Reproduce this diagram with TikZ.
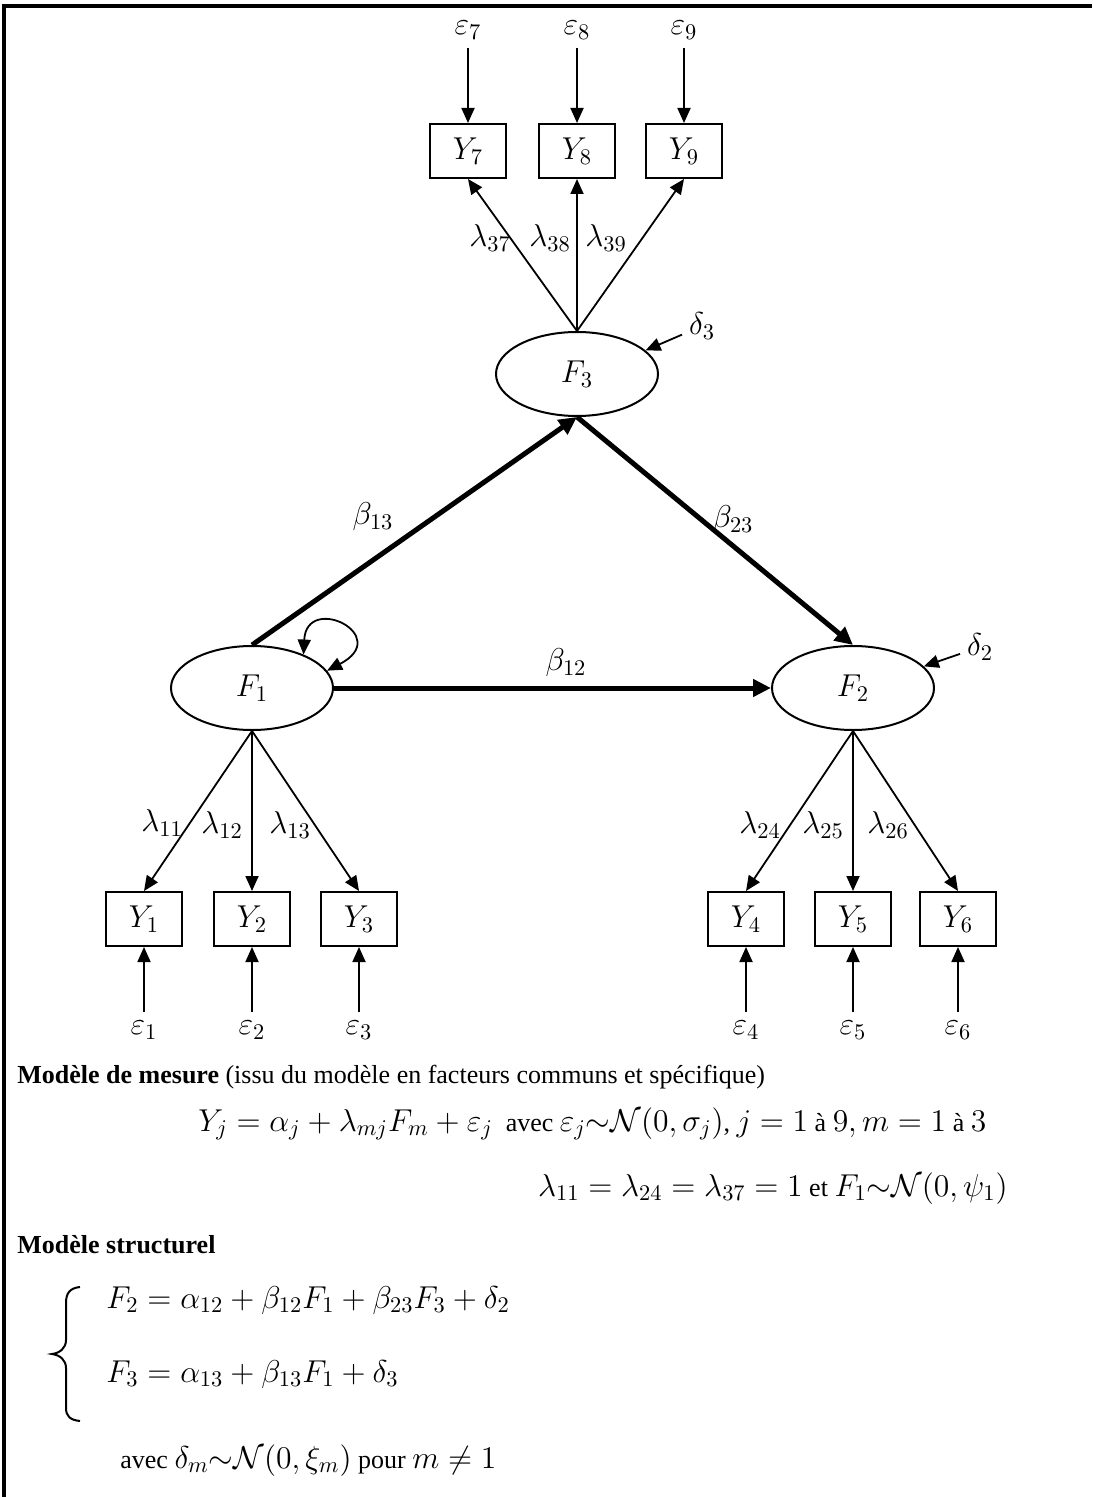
\RequirePackage{fix-cm}
\documentclass[tikz,border=0pt]{standalone}
\usepackage{fontspec}
\setmainfont{Liberation Serif}
\DeclareMathSizes{13}{15.8}{11.2}{8.8}
\usetikzlibrary{arrows.meta,shapes.geometric}
\begin{document}
\begin{tikzpicture}[x=0.5pt,y=-0.5pt,
    every node/.style={font=\fontsize{13}{15}\selectfont},
    obs/.style={draw,line width=1pt,minimum width=38pt,minimum height=27pt,inner sep=0pt},
    lat/.style={draw,ellipse,line width=1pt,minimum width=81pt,minimum height=42pt,inner sep=0pt},
    err/.style={inner sep=4pt},
    arr/.style={line width=0.9pt,-{Triangle[length=7.5pt,width=6.5pt]}},
    struct/.style={line width=2.5pt,-{Triangle[length=9pt,width=8.5pt]}},
    txt/.style={anchor=base west,inner sep=0pt}]
    \useasboundingbox (0,0) rectangle (1092,1497);
    \draw[line width=1.6pt] (4,1497) -- (4,6) -- (1092,6);
    % latent factors
    \node[lat] (F1) at (252,688) {$F_1$};
    \node[lat] (F2) at (853,688) {$F_2$};
    \node[lat] (F3) at (577,374) {$F_3$};
    % indicators
    \foreach \n/\x in {7/468,8/577,9/684} {
        \node[obs] (Y\n) at (\x,151) {$Y_{\n}$};
        \node[err] (e\n) at (\x,30) {$\varepsilon_{\n}$};
        \draw[arr] (e\n) -- (Y\n);
        \draw[arr] (F3.north) -- (Y\n.south);
    }
    \foreach \n/\x/\f in {1/144/F1,2/252/F1,3/359/F1,4/746/F2,5/853/F2,6/958/F2} {
        \node[obs] (Y\n) at (\x,919) {$Y_{\n}$};
        \node[err] (e\n) at (\x,1030) {$\varepsilon_{\n}$};
        \draw[arr] (e\n) -- (Y\n);
        \draw[arr] (\f.south) -- (Y\n.north);
    }
    \foreach \lab/\x/\y in {37/490/238,38/550/238,39/606/238,11/162/823,12/222/825,
        13/290/825,24/760/825,25/823/825,26/888/825}
        \node (l\lab) at (\x,\y) {$\lambda_{\lab}$};
    % structural paths
    \draw[struct] (F1.north) -- (F3.south);
    \draw[struct] (F3.south) -- (F2.north);
    \draw[struct] (F1.east) -- (F2.west);
    \node (b13) at (373,517) {$\beta_{13}$};
    \node (b23) at (733,520) {$\beta_{23}$};
    \node (b12) at (566,663) {$\beta_{12}$};
    \draw[line width=0.9pt,{Triangle[length=7.5pt,width=6.5pt]}-{Triangle[length=7.5pt,width=6.5pt]}]
        (F1.33) .. controls +(3,-62) and +(67,-35) .. (F1.13);
    \node (d3) at (702,326) {$\delta_3$};
    \draw[arr] (d3) -- (F3.19);
    \node (d2) at (980,647) {$\delta_2$};
    \draw[arr] (d2) -- (F2.17);
    % equations
    \node[txt] (mes) at (17,1083) {\textbf{Modèle de mesure} (issu du modèle en facteurs communs et spécifique)};
    \node[txt] (eq1) at (198,1131) {$Y_j=\alpha_j+\lambda_{mj}F_m+\varepsilon_j$\ \ avec $\varepsilon_j{\sim}\mathcal{N}\big(0,\sigma_j\big)$, $j=1$ à $9, m=1$ à $3$};
    \node[anchor=base east,inner sep=0pt] (eq2) at (1008,1196) {$\lambda_{11}=\lambda_{24}=\lambda_{37}=1$ et $F_1{\sim}\mathcal{N}(0,\psi_1)$};
    \node[txt] (str) at (17,1253) {\textbf{Modèle structurel}};
    \draw[line width=1pt] (80,1287) .. controls (70,1288) and (66,1293) .. (66,1303) -- (66,1340)
        .. controls (66,1348) and (60,1353) .. (52,1354) .. controls (60,1355) and (66,1360) .. (66,1368)
        -- (66,1408) .. controls (66,1416) and (70,1420) .. (80,1421);
    \node[txt] (eqF2) at (106,1308) {$F_2=\alpha_{12}+\beta_{12}F_1+\beta_{23}F_3+\delta_2$};
    \node[txt] (eqF3) at (106,1382) {$F_3=\alpha_{13}+\beta_{13}F_1+\delta_3$};
    \node[txt] (avec) at (120,1468) {avec $\delta_m{\sim}\mathcal{N}(0,\xi_m)$ pour $m\neq 1$};
\end{tikzpicture}
\end{document}
